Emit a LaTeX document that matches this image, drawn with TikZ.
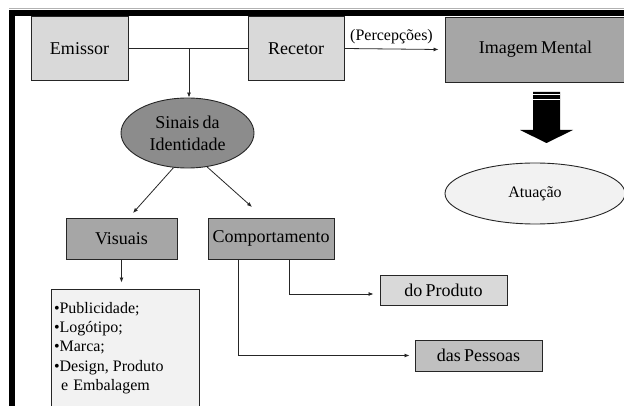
\documentclass[tikz,border=0pt]{standalone}
\usepackage{fontspec}
\setmainfont[WordSpace=0.7]{Liberation Serif}
\frenchspacing
\usetikzlibrary{arrows.meta,shapes.geometric}
\definecolor{fillA}{HTML}{D9D9D9}
\definecolor{fillB}{HTML}{A6A6A6}
\definecolor{fillC}{HTML}{8C8C8C}
\definecolor{fillD}{HTML}{C0C0C0}
\definecolor{fillE}{HTML}{F2F2F2}
\definecolor{edge}{HTML}{262626}
\tikzset{
  box/.style={draw=edge, line width=0.9pt, rectangle, inner sep=0pt,
    font=\fontsize{18}{22}\selectfont},
  oval/.style={draw=edge, line width=0.9pt, ellipse, inner sep=0pt, align=center},
  link/.style={draw=edge, line width=0.8pt},
  arr/.style={link, -{Latex[length=5pt,width=4pt]}},
}
\begin{document}
\begin{tikzpicture}[x=1pt,y=-1pt]
\useasboundingbox (0,0) rectangle (624,406);
\begin{scope}
\clip (0,0) rectangle (624,406);

% frame
\draw[gray!60, line width=1pt] (9,9) -- (630,9);
\fill[black] (9,10) rectangle (630,16);
\fill[black] (9,10) rectangle (15,410);

% top row
\node[box, fill=fillA, minimum width=97pt, minimum height=64pt] (emissor) at (79.5,48.5) {Emissor};
\node[box, fill=fillA, minimum width=96pt, minimum height=64pt] (recetor) at (296,48.5) {Recetor};
\node[box, fill=fillB, minimum width=181pt, minimum height=65pt] (imagem) at (535.5,49.5) {Imagem Mental};

% identity signals
\node[oval, fill=fillC, minimum width=133pt, minimum height=70pt,
  font=\fontsize{18}{22}\selectfont] (sinais) at (187.5,133) {Sinais da\\Identidade};

% action
\node[oval, fill=fillE, minimum width=180pt, minimum height=61pt,
  font=\fontsize{16}{19}\selectfont] (atuacao) at (535,193.5) {Atuação};

% second level
\node[box, fill=fillB, minimum width=111pt, minimum height=41pt] (visuais) at (121.5,238.5) {Visuais};
\node[box, fill=fillB, minimum width=126pt, minimum height=41pt] (comport) at (271,238.5) {Comportamento};

\node[box, fill=fillE, minimum width=148pt, minimum height=118pt, text width=142pt,
  align=left, font=\fontsize{16}{19.3}\selectfont] (lista) at (125,348)
  {•Publicidade;\\•Logótipo;\\•Marca;\\•Design,\hspace{4pt}Produto\\\hspace{7pt}e Embalagem};

\node[box, fill=fillA, minimum width=127pt, minimum height=30pt] (produto) at (443.5,290) {do Produto};
\node[box, fill=fillD, minimum width=127pt, minimum height=31pt] (pessoas) at (478.5,355.5) {das Pessoas};

% connectors
\coordinate (junction) at (189,48.5);
\coordinate (visTip) at (133,213);
\coordinate (comTip) at (252,207);

\draw[link] (emissor.east) -- (recetor.west);
\draw[arr] (junction) -- (junction |- sinais.north);
\draw[arr] (recetor.east) -- ([xshift=-6pt]imagem.west)
  node[midway, above=1pt, font=\fontsize{16}{19}\selectfont] {(Percepções)};
\draw[arr] (sinais.248) -- (visTip);
\draw[arr] (sinais.300) -- (comTip);
\draw[arr, shorten >=6pt] (visuais.south) -- (visuais.south |- lista.north);
\draw[arr] ([xshift=18pt]comport.south) |- ([xshift=-6pt,yshift=-4pt]produto.west);
\draw[arr] ([xshift=-33pt]comport.south) |- ([xshift=-5pt]pessoas.west);

% block arrow from the mental image to the action
\fill[black] (533,92) -- (560,92) -- (560,130) -- (573,130) -- (546.5,143)
  -- (520,130) -- (533,130) -- cycle;
\draw[white, line width=0.8pt] (533,94.5) -- (560,94.5);
\draw[white, line width=0.8pt] (533,99) -- (560,99);
\end{scope}
\end{tikzpicture}
\end{document}
